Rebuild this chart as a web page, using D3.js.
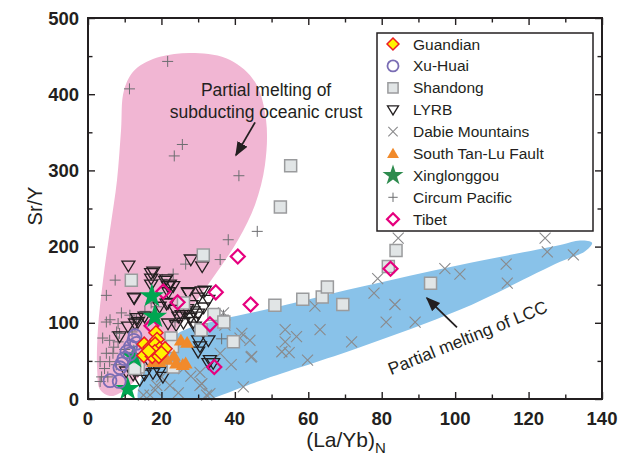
<!DOCTYPE html>
<html>
<head>
<meta charset="utf-8">
<script src="https://cdn.jsdelivr.net/npm/d3@7"></script>
<style>
  body { margin: 0; background: #fff; }
  svg { display: block; font-family: Arial, "Liberation Sans", sans-serif; }
</style>
</head>
<body>
<svg id="chart" width="621" height="463"></svg>
<script>
/* ---------- data ---------- */
const X_TICKS = [0, 20, 40, 60, 80, 100, 120, 140];
const Y_TICKS = [0, 100, 200, 300, 400, 500];

// field outlines, [(La/Yb)N, Sr/Y]
const OCEANIC_FIELD = [
  [6.0, 4], [3.3, 12], [2.5, 38], [2.7, 91], [4.1, 156], [6.0, 222], [7.9, 287],
  [9.0, 353], [9.8, 405], [12.8, 432], [19.6, 449], [29.1, 454], [38.7, 445],
  [45.5, 416], [48.5, 366], [48.2, 307], [45.5, 255], [40.9, 209], [34.6, 163],
  [27.8, 117], [21.0, 71], [14.2, 31], [8.7, 8]
];
const LCC_FIELD = [
  [13.6, 0], [14.7, 29], [18.3, 58], [21.8, 77], [26.4, 91], [36.0, 104], [48.2, 117],
  [74.1, 147], [101.3, 176], [128.6, 202], [134.0, 208], [137.3, 205], [135.4, 194],
  [128.6, 180], [101.3, 117], [74.1, 68], [46.9, 24], [34.6, 2], [25, -14], [16, -12]
];

const guandian = [
  [18.5, 87], [18.8, 78], [15.3, 72], [16.9, 68], [18.3, 72], [19.5, 66], [21.0, 66],
  [18.2, 62], [15.2, 57], [17.5, 56], [19.3, 56], [20.0, 60], [16.5, 63]
];
const xuHuai = [
  [12.8, 83], [12.5, 77], [13.2, 73], [11.6, 69], [10.6, 62], [11.4, 59], [9.8, 53],
  [9.2, 46], [8.7, 41], [6.0, 24], [8.5, 23]
];
const shandong = [
  [55.2, 306], [52.4, 252], [31.4, 189], [50.9, 123], [58.5, 131], [63.8, 134], [65.2, 147],
  [69.4, 124], [34.3, 111], [37.0, 101], [39.6, 75], [30.8, 91], [22.6, 80], [26.0, 126],
  [11.8, 156], [83.9, 195], [81.8, 174], [93.3, 152], [23.0, 69], [13.7, 42], [23.2, 42], [12.7, 40]
];
const lyrb = [
  [11.0, 175], [17.2, 165], [17.2, 158], [17.2, 150], [21.3, 157], [21.8, 148], [23.2, 148],
  [12.5, 133], [28.0, 183], [31.1, 174], [27.2, 140], [30.0, 133], [31.8, 142], [21.8, 126],
  [17.8, 167], [21.0, 155], [22.3, 150], [21.9, 140], [27.3, 139], [31.0, 141], [32.8, 130],
  [21.4, 125], [24.6, 108], [28.2, 123], [28.7, 115], [29.6, 108], [27.8, 106], [28.7, 101],
  [30.0, 77], [32.8, 77], [30.5, 69], [30.0, 62], [33.2, 51], [32.8, 47], [34.1, 47], [16.9, 47],
  [10.9, 95], [13.6, 101], [8.6, 82], [15.4, 108], [19.5, 121], [21.8, 99], [24.0, 97],
  [10.4, 36], [12.3, 32], [14.1, 25], [15.4, 32], [13.6, 38], [17.7, 34], [19.5, 36], [20.4, 29],
  [12.6, 132], [13.3, 106], [12.8, 99], [23.7, 117], [26.4, 113], [29.1, 95], [25.5, 110],
  [27.0, 118], [30.0, 112], [31.5, 120], [26.0, 100]
];
const dabie = [
  [84.5, 211], [124.5, 211], [125.1, 193], [132.2, 189], [97.2, 171], [101.3, 164], [113.9, 177],
  [114.2, 152], [78.9, 158], [77.9, 139], [83.6, 124], [81.2, 101], [89.1, 101], [61.8, 122],
  [53.7, 91], [56.8, 82], [63.2, 91], [53.7, 75], [52.8, 62], [54.8, 61], [59.8, 51], [71.8, 75],
  [44.4, 55], [41.4, 80], [42.3, 16], [36.9, 113], [32.3, 5], [37.3, 97], [41.9, 86], [44.6, 56],
  [30.5, 18], [22.3, 18], [20.0, 29], [16.9, 5], [44.1, 77], [33.2, 7], [24.6, 8], [18.3, 12],
  [15.1, 5], [18.7, 18], [31.0, 20], [26.0, 40], [28.0, 30], [30.5, 35], [36.0, 60], [39.0, 45]
];
const southTanLu = [
  [25.3, 77], [27.0, 74], [23.4, 57], [20.0, 56], [19.5, 49], [17.8, 49], [24.0, 47],
  [25.8, 45], [26.6, 47], [21.5, 52]
];
const xinglonggou = [[17.4, 135], [18.2, 108], [10.8, 13], [12.5, 55]];
const circumPacific = [
  [21.7, 443], [11.3, 407], [25.7, 334], [23.5, 319], [41.1, 293], [46.1, 220], [38.2, 209],
  [36.0, 183], [36.4, 79], [26.6, 177], [23.2, 164], [7.4, 156], [5.0, 136], [20.2, 157],
  [17.2, 126], [18.7, 121], [23.7, 101], [36.9, 110], [9.1, 113], [11.4, 110], [5.0, 101],
  [8.2, 99], [8.6, 86], [5.9, 77], [8.2, 75], [5.0, 60], [6.8, 60], [5.9, 49], [7.7, 45],
  [4.5, 40], [5.4, 29], [13.2, 104], [15.5, 115], [6.0, 104], [7.8, 88], [3.3, 49], [3.7, 29],
  [3.3, 23], [10.0, 65], [7.0, 68], [4.0, 80], [12.0, 88]
];
const tibet = [
  [40.8, 187], [34.8, 140], [44.3, 124], [33.2, 98], [34.4, 42], [82.4, 171],
  [20.5, 141], [24.4, 127], [17.3, 96]
];

/* ---------- series styles (draw order) ---------- */
const SERIES = [
  { key: 'circum', label: 'Circum Pacific',     data: circumPacific, shape: 'plus',    size: 5.5, fill: 'none',    stroke: '#6d6e71', sw: 1 },
  { key: 'dabie',  label: 'Dabie Mountains',    data: dabie,         shape: 'x',       size: 5.5, fill: 'none',    stroke: '#8a8a8c', sw: 1.1 },
  { key: 'lyrb',   label: 'LYRB',               data: lyrb,          shape: 'tridown', size: 6.5, fill: 'none',    stroke: '#231f20', sw: 1.3 },
  { key: 'shan',   label: 'Shandong',           data: shandong,      shape: 'square',  size: 6,   fill: '#e1e5e6', stroke: '#9a9b9d', sw: 1.5 },
  { key: 'tibet',  label: 'Tibet',              data: tibet,         shape: 'diamond', size: 7,   fill: 'none',    stroke: '#e6007e', sw: 2.2 },
  { key: 'xing',   label: 'Xinglonggou',        data: xinglonggou,   shape: 'star',    size: 8.5, fill: '#00a651', stroke: 'none',    sw: 0 },
  { key: 'xuhuai', label: 'Xu-Huai',            data: xuHuai,        shape: 'circle',  size: 6.5, fill: 'none',    stroke: '#7a6db4', sw: 1.8 },
  { key: 'stl',    label: 'South Tan-Lu Fault', data: southTanLu,    shape: 'triup',   size: 7,   fill: '#f18a2b', stroke: 'none',    sw: 0 },
  { key: 'guan',   label: 'Guandian',           data: guandian,      shape: 'diamond', size: 7,   fill: '#fff200', stroke: '#ed1c24', sw: 1.5 },
];
const LEGEND_ORDER = ['guan', 'xuhuai', 'shan', 'lyrb', 'dabie', 'stl', 'xing', 'circum', 'tibet'];

/* ---------- layout ---------- */
const plot = { left: 88, right: 602, top: 18, bottom: 399 };

const x = d3.scaleLinear().domain([0, 140]).range([plot.left, plot.right]);
const y = d3.scaleLinear().domain([0, 500]).range([plot.bottom, plot.top]);

const svg = d3.select('#chart');
const axisColor = '#231f20';

/* ---------- symbols ---------- */
function symbolPath(shape, s) {
  switch (shape) {
    case 'diamond': return `M0,${-s}L${s},0L0,${s}L${-s},0Z`;
    case 'square':  return `M${-s},${-s}H${s}V${s}H${-s}Z`;
    case 'tridown': return `M${-s},${-s * 0.7}L${s},${-s * 0.7}L0,${s * 0.95}Z`;
    case 'triup':   return `M${-s},${s * 0.75}L${s},${s * 0.75}L0,${-s * 0.95}Z`;
    case 'x':       return `M${-s},${-s}L${s},${s}M${-s},${s}L${s},${-s}`;
    case 'plus':    return `M${-s},0H${s}M0,${-s}V${s}`;
    case 'circle':  return d3.symbol(d3.symbolCircle, Math.PI * s * s)();
    case 'star':    return d3.symbol(d3.symbolStar, s * s * 2.6)();
  }
}

/* ---------- clip + fields ---------- */
svg.append('clipPath').attr('id', 'plot-clip')
  .append('rect')
  .attr('x', plot.left).attr('y', plot.top)
  .attr('width', plot.right - plot.left).attr('height', plot.bottom - plot.top);

const fieldLine = d3.line()
  .x(d => x(d[0])).y(d => y(d[1]))
  .curve(d3.curveCatmullRomClosed.alpha(0.5));

const fields = svg.append('g').attr('clip-path', 'url(#plot-clip)');
fields.append('path').attr('d', fieldLine(OCEANIC_FIELD)).attr('fill', '#f1b6d3');
fields.append('path').attr('d', fieldLine(LCC_FIELD)).attr('fill', '#89c2e9');

/* ---------- points ---------- */
const pts = svg.append('g');
SERIES.forEach(s => {
  const p = symbolPath(s.shape, s.size);
  pts.append('g').attr('class', 'series-' + s.key)
    .selectAll('path').data(s.data).join('path')
    .attr('d', p)
    .attr('transform', d => `translate(${x(d[0])},${y(d[1])})`)
    .attr('fill', s.fill)
    .attr('stroke', s.stroke)
    .attr('stroke-width', s.sw);
});

/* ---------- annotations ---------- */
svg.append('defs').append('marker')
  .attr('id', 'arrowhead').attr('viewBox', '0 0 10 10')
  .attr('refX', 9).attr('refY', 5)
  .attr('markerWidth', 8).attr('markerHeight', 8)
  .attr('orient', 'auto')
  .append('path').attr('d', 'M0,1L10,5L0,9Z').attr('fill', axisColor);

const ann = svg.append('g').attr('fill', axisColor).attr('font-size', 17.5);
ann.append('text').attr('x', x(48.5)).attr('y', y(398)).attr('text-anchor', 'middle').text('Partial melting of');
ann.append('text').attr('x', x(48.5)).attr('y', y(369)).attr('text-anchor', 'middle').text('subducting oceanic crust');
ann.append('line')
  .attr('x1', x(45.5)).attr('y1', y(363)).attr('x2', x(40.3)).attr('y2', y(320))
  .attr('stroke', axisColor).attr('stroke-width', 1.8).attr('marker-end', 'url(#arrowhead)');

ann.append('text')
  .attr('transform', `translate(${x(104)},${y(73)}) rotate(-22)`)
  .attr('text-anchor', 'middle').text('Partial melting of LCC');
ann.append('line')
  .attr('x1', x(100.5)).attr('y1', y(94)).attr('x2', x(92.3)).attr('y2', y(132.5))
  .attr('stroke', axisColor).attr('stroke-width', 1.8).attr('marker-end', 'url(#arrowhead)');

/* ---------- axes ---------- */
const minorX = d3.range(10, 140, 20);
const minorY = d3.range(50, 500, 100);

const frame = svg.append('g');
frame.append('rect')
  .attr('x', plot.left).attr('y', plot.top)
  .attr('width', plot.right - plot.left).attr('height', plot.bottom - plot.top)
  .attr('fill', 'none').attr('stroke', axisColor).attr('stroke-width', 2);

function inwardTicks(axisGen, transform, values, len) {
  const g = frame.append('g').attr('transform', transform)
    .call(axisGen.tickValues(values).tickSize(-len).tickFormat(''));
  g.select('.domain').remove();
  g.selectAll('line').attr('stroke', axisColor).attr('stroke-width', 1.4);
}
inwardTicks(d3.axisBottom(x), `translate(0,${plot.bottom})`, X_TICKS, 7);
inwardTicks(d3.axisBottom(x), `translate(0,${plot.bottom})`, minorX, 4.5);
inwardTicks(d3.axisTop(x), `translate(0,${plot.top})`, X_TICKS, 7);
inwardTicks(d3.axisTop(x), `translate(0,${plot.top})`, minorX, 4.5);
inwardTicks(d3.axisLeft(y), `translate(${plot.left},0)`, Y_TICKS, 7);
inwardTicks(d3.axisLeft(y), `translate(${plot.left},0)`, minorY, 4.5);
inwardTicks(d3.axisRight(y), `translate(${plot.right},0)`, Y_TICKS, 7);
inwardTicks(d3.axisRight(y), `translate(${plot.right},0)`, minorY, 4.5);

const labels = svg.append('g').attr('fill', axisColor).attr('font-weight', 'bold').attr('font-size', 18.5);
labels.selectAll('.xl').data(X_TICKS).join('text').attr('class', 'xl')
  .attr('x', d => x(d)).attr('y', plot.bottom + 26).attr('text-anchor', 'middle').text(d => d);
labels.selectAll('.yl').data(Y_TICKS).join('text').attr('class', 'yl')
  .attr('x', plot.left - 9).attr('y', d => y(d) + 6.5).attr('text-anchor', 'end').text(d => d);

const xTitle = svg.append('text').attr('x', 346).attr('y', 447)
  .attr('text-anchor', 'middle').attr('font-size', 21).attr('fill', axisColor);
xTitle.append('tspan').text('(La/Yb)');
xTitle.append('tspan').attr('font-size', 15).attr('dy', 6).text('N');

svg.append('text').attr('transform', 'translate(42,206) rotate(-90)')
  .attr('text-anchor', 'middle').attr('font-size', 20).attr('fill', axisColor).text('Sr/Y');

/* ---------- legend ---------- */
const lg = svg.append('g').attr('transform', 'translate(377,33)');
lg.append('rect').attr('width', 216).attr('height', 198)
  .attr('fill', '#fff').attr('stroke', axisColor).attr('stroke-width', 1.5);
LEGEND_ORDER.forEach((k, i) => {
  const s = SERIES.find(d => d.key === k);
  const row = lg.append('g').attr('transform', `translate(16,${11 + i * 21.9})`);
  row.append('path').attr('d', symbolPath(s.shape, s.size * 0.85))
    .attr('fill', s.key === 'xing' ? '#2e8b4e' : s.fill)
    .attr('stroke', s.stroke).attr('stroke-width', s.sw);
  row.append('text').attr('x', 20).attr('y', 5.5).attr('font-size', 15.5).attr('fill', axisColor).text(s.label);
});
</script>
</body>
</html>
